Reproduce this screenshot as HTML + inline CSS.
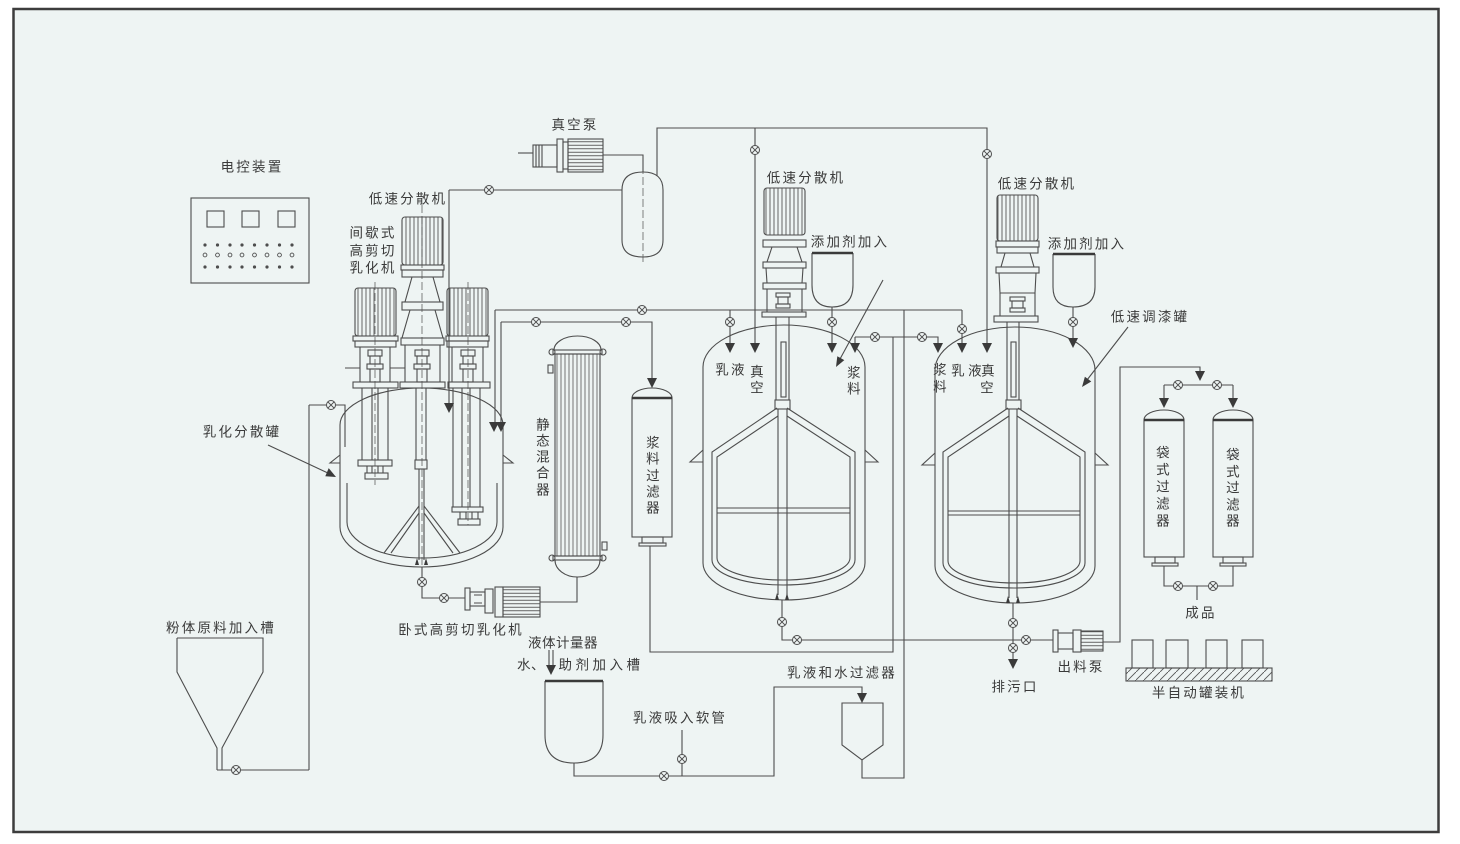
<!DOCTYPE html>
<html><head><meta charset="utf-8"><style>
html,body{margin:0;padding:0;background:#fff;}
svg{display:block;}
text{font-family:"Liberation Sans","Noto Sans CJK SC",sans-serif;font-size:13.5px;fill:#3a3a3a;letter-spacing:2.2px;dominant-baseline:central;text-anchor:middle;}
</style></head><body>
<svg width="1460" height="844" viewBox="0 0 1460 844" xmlns="http://www.w3.org/2000/svg">
<defs>
<pattern id="vr" width="4" height="10" patternUnits="userSpaceOnUse"><line x1="2" y1="0" x2="2" y2="10" stroke="#555" stroke-width="0.9"/></pattern>
<pattern id="hr" width="10" height="3.5" patternUnits="userSpaceOnUse"><line x1="0" y1="1.75" x2="10" y2="1.75" stroke="#555" stroke-width="0.9"/></pattern>
<pattern id="tb" width="4" height="10" patternUnits="userSpaceOnUse"><line x1="1" y1="0" x2="1" y2="10" stroke="#555" stroke-width="0.8"/></pattern>
<pattern id="hatch" width="8" height="8" patternUnits="userSpaceOnUse"><line x1="0" y1="8" x2="8" y2="0" stroke="#555" stroke-width="0.9"/></pattern>
<g id="v"><circle r="4.5" fill="#eef4f3" stroke="#4d4d4d" stroke-width="1"/><path d="M-3.2,-3.2L3.2,3.2M-3.2,3.2L3.2,-3.2" stroke="#4d4d4d" stroke-width="1"/></g>
<path id="a" d="M-5,-10L5,-10L0,0Z" fill="#3a3a3a"/>
<path id="au" d="M-2,7L0,0L2,7Z" fill="#3a3a3a"/>
</defs>

<rect x="13.5" y="9" width="1425" height="823" fill="#eef4f3" stroke="#3d3d3d" stroke-width="2.5"/>

<g stroke="#4d4d4d" stroke-width="1.1" fill="none">
<!-- control box -->
<rect x="191" y="198" width="118" height="85"/>
<rect x="207" y="211" width="17" height="16"/>
<rect x="242" y="211" width="17" height="16"/>
<rect x="278" y="211" width="17" height="16"/>
</g>
<g fill="#4d4d4d">
<circle cx="205" cy="245" r="1.6"/><circle cx="217.5" cy="245" r="1.6"/><circle cx="230" cy="245" r="1.6"/><circle cx="242" cy="245" r="1.6"/><circle cx="254.5" cy="245" r="1.6"/><circle cx="267" cy="245" r="1.6"/><circle cx="279.5" cy="245" r="1.6"/><circle cx="292" cy="245" r="1.6"/>
<circle cx="205" cy="267" r="1.6"/><circle cx="217.5" cy="267" r="1.6"/><circle cx="230" cy="267" r="1.6"/><circle cx="242" cy="267" r="1.6"/><circle cx="254.5" cy="267" r="1.6"/><circle cx="267" cy="267" r="1.6"/><circle cx="279.5" cy="267" r="1.6"/><circle cx="292" cy="267" r="1.6"/>
</g>
<g fill="none" stroke="#4d4d4d" stroke-width="0.9">
<circle cx="205" cy="255" r="1.9"/><circle cx="217.5" cy="255" r="1.9"/><circle cx="230" cy="255" r="1.9"/><circle cx="242" cy="255" r="1.9"/><circle cx="254.5" cy="255" r="1.9"/><circle cx="267" cy="255" r="1.9"/><circle cx="279.5" cy="255" r="1.9"/><circle cx="292" cy="255" r="1.9"/>
</g>

<g stroke="#4d4d4d" stroke-width="1.1" fill="none">
<!-- ===== LEFT TANK ===== -->
<path d="M340,527 V425 A81.5,37 0 0 1 503,425 V527 A81.5,40 0 0 1 340,527 Z"/>
<path d="M347,483 V522 A75,36 0 0 0 497,522 V483"/>
<path d="M340,455 L330,463 L340,463 M503,455 L513,463 L503,463"/>
<!-- motors -->
<rect x="355" y="288" width="41" height="48" rx="3" fill="url(#vr)"/>
<rect x="353" y="336" width="45" height="5"/>
<rect x="355" y="341" width="41" height="6"/>
<path d="M360,347 V382 M390,347 V382"/>
<rect x="368" y="350" width="14" height="6"/>
<rect x="370" y="356" width="10" height="8"/>
<rect x="367" y="364" width="16" height="5"/>
<rect x="370" y="369" width="10" height="13"/>
<rect x="353" y="382" width="45" height="6"/>
<path d="M345,368H360 M390,368H405"/>

<rect x="402" y="217" width="41" height="48" rx="3" fill="url(#vr)"/>
<rect x="401" y="265" width="43" height="5"/>
<rect x="402" y="270" width="41" height="7"/>
<path d="M412,277 L433,277 L440,302 L405,302 Z"/>
<rect x="402" y="302" width="41" height="8"/>
<path d="M410,310 L435,310 L443,338 L402,338 Z"/>
<rect x="401" y="338" width="43" height="7"/>
<path d="M405,345 V382 M440,345 V382"/>
<rect x="415" y="350" width="14" height="6"/>
<rect x="417" y="356" width="10" height="8"/>
<rect x="414" y="364" width="16" height="5"/>
<rect x="417" y="369" width="10" height="13"/>
<rect x="400" y="382" width="45" height="6"/>

<rect x="447" y="288" width="41" height="48" rx="3" fill="url(#vr)"/>
<rect x="446" y="336" width="43" height="5"/>
<rect x="447" y="341" width="41" height="6"/>
<path d="M452,347 V382 M483,347 V382"/>
<rect x="461" y="350" width="14" height="6"/>
<rect x="463" y="356" width="10" height="8"/>
<rect x="460" y="364" width="16" height="5"/>
<rect x="463" y="369" width="10" height="13"/>
<rect x="448" y="382" width="42" height="6"/>
<!-- agitators -->
<path d="M362,388V460 M388,388V460 M372,388V460 M378,388V460"/>
<rect x="358" y="460" width="34" height="6"/>
<path d="M367,466V473 M372,466V473 M378,466V473 M383,466V473"/>
<rect x="365" y="473" width="23" height="6"/>
<path d="M416,388V460 M426,388V460"/>
<rect x="415" y="460" width="12" height="9"/>
<path d="M419,469V560 M424,469V560"/>
<path d="M419,506 L384,553 M419,513 L391,553 M424,506 L460,553 M424,513 L453,553"/>
<path d="M453,388V507 M462,388V507 M470,388V507 M480,388V507"/>
<rect x="452" y="507" width="31" height="5"/>
<path d="M460,512V519 M466,512V519 M472,512V519 M478,512V519"/>
<rect x="458" y="519" width="22" height="6"/>
</g>
<use href="#au" x="417" y="558"/><use href="#au" x="426" y="558"/>
<g stroke="#4d4d4d" stroke-width="0.7" fill="none" stroke-dasharray="8,3">
<path d="M375,282V485 M422,205V565 M468,282V525 M643,155V263"/>
</g>

<g stroke="#4d4d4d" stroke-width="1.1" fill="none">
<!-- left pipes -->
<path d="M449,190 V404 M449,190 H622"/>
<path d="M495,310 V423 M501,322 V423"/>
<path d="M495,310 H962 M501,322 H652 V378"/>
<path d="M309,405 V770 M309,405 H345 V447"/>
<path d="M177,638 H263 V672 L222,748 V770 M177,638 V672 L217,748 V770 M217,770 H309"/>
<path d="M268,445 L330,474"/>
<!-- bottom of left tank + horizontal pump -->
<path d="M422,567 V598 H465"/>
<rect x="465" y="588" width="5" height="22"/>
<rect x="470" y="592" width="15" height="14"/>
<path d="M474,595 H482 M474,603 H482"/>
<rect x="485" y="589" width="8" height="24"/>
<rect x="495" y="587" width="8" height="30"/>
<rect x="503" y="587" width="37" height="30" fill="url(#hr)"/>
<path d="M540,602 H577 V577"/>

<!-- static mixer -->
<path d="M554,350 A23.5,14 0 0 1 601,350"/>
<rect x="553" y="350" width="49" height="4"/>
<circle cx="552" cy="352" r="3"/><circle cx="603" cy="352" r="3"/>
<rect x="555" y="354" width="45" height="202" fill="url(#tb)"/>
<rect x="553" y="556" width="49" height="4"/>
<circle cx="552" cy="558" r="3"/><circle cx="603" cy="558" r="3"/>
<path d="M555,560 A22.5,17 0 0 0 600,560"/>
<rect x="548" y="365" width="5" height="8"/>
<rect x="602" y="542" width="5" height="8"/>

<!-- slurry filter -->
<path d="M632,398 A20,10 0 0 1 672,398"/>
<rect x="632" y="398" width="40" height="139"/>
<rect x="642" y="537" width="21" height="6"/>
<rect x="639" y="543" width="27" height="3"/>
<path d="M650,546 V652 H893 V337"/>

<!-- vacuum pump + tank -->
<path d="M518,153 H533"/>
<rect x="533" y="145" width="24" height="22"/>
<path d="M536,145V167 M539,145V167 M542,145V167"/>
<rect x="557" y="139" width="6" height="33"/>
<rect x="563" y="142" width="5" height="27"/>
<rect x="568" y="139" width="35" height="33" fill="url(#hr)"/>
<path d="M603,155 H643 V172"/>
<path d="M622,190 Q622,172 643,172 Q663,172 663,190 V240 Q663,257 643,257 Q622,257 622,240 Z"/>
<path d="M657,176 V128 H987 V344"/>

<!-- ===== MIDDLE TANK ===== -->
<path d="M703,563 V367 A81,42 0 0 1 865,367 V563 A81,37 0 0 1 703,563 Z"/>
<path d="M777,408 L712,452 V560 A71.5,25 0 0 0 855,560 V452 L787,408"/>
<path d="M778,416 L717,457 V558 A66.5,22 0 0 0 850,558 V457 L787,416"/>
<path d="M717,508 H850 M717,513 H850"/>
<path d="M703,450 L690,462 L703,462 M865,450 L878,462 L865,462"/>
<rect x="764" y="188" width="41" height="47" rx="3" fill="url(#vr)"/>
<rect x="763" y="240" width="43" height="7"/>
<path d="M772,247 L797,247 L802,262 L767,262 Z"/>
<rect x="763" y="262" width="43" height="6"/>
<path d="M766,268 L803,268 L802,283 L767,283 Z"/>
<rect x="763" y="283" width="43" height="6"/>
<path d="M767,289 V312 M802,289 V312"/>
<rect x="776" y="293" width="14" height="4"/>
<rect x="778" y="297" width="10" height="7"/>
<rect x="776" y="304" width="14" height="4"/>
<rect x="762" y="312" width="44" height="5"/>
<path d="M776,317 V400 M789,317 V400"/>
<rect x="781" y="342" width="5" height="55"/>
<rect x="775" y="400" width="15" height="9"/>
<path d="M778,409 V595 M787,409 V595"/>
<path d="M812,253 V285 Q812,307 832,307 Q853,307 853,285 V253"/>
<path d="M832,307 V344 M730,310 V344 M755,128 V344 M855,337 V344 M855,337 H938 V344"/>
<path d="M883,280 L840,359"/>
<path d="M782,600 V640 H1053"/>

<!-- ===== RIGHT TANK ===== -->
<path d="M935,566 V370 A80,43 0 0 1 1095,370 V566 A80,37 0 0 1 935,566 Z"/>
<path d="M1008,408 L943,452 V563 A71,25 0 0 0 1085,563 V452 L1018,408"/>
<path d="M1009,416 L948,457 V561 A66,22 0 0 0 1080,561 V457 L1017,416"/>
<path d="M948,511 H1080 M948,515 H1080"/>
<path d="M935,453 L922,465 L935,465 M1095,453 L1108,465 L1095,465"/>
<rect x="997" y="195" width="41" height="46" rx="3" fill="url(#vr)"/>
<rect x="996" y="241" width="43" height="6"/>
<rect x="997" y="247" width="41" height="6"/>
<path d="M1005,253 L1030,253 L1034,267 L1001,267 Z"/>
<rect x="996" y="267" width="43" height="6"/>
<path d="M999,273 L1036,273 L1035,293 L1000,293 Z"/>
<path d="M1000,293 V316 M1035,293 V316"/>
<rect x="1010" y="297" width="15" height="4"/>
<rect x="1012" y="301" width="11" height="7"/>
<rect x="1010" y="308" width="15" height="4"/>
<rect x="994" y="316" width="44" height="6"/>
<path d="M1007,322 V400 M1019,322 V400"/>
<rect x="1011" y="342" width="5" height="55"/>
<rect x="1006" y="400" width="15" height="9"/>
<path d="M1009,409 V598 M1017,409 V598"/>
<path d="M1053,254 V287 Q1053,307 1073,307 Q1095,307 1095,287 V254"/>
<path d="M1073,307 V339 M962,310 V344"/>
<path d="M1128,327 L1087,380"/>
<path d="M1013,603 V659"/>
<path d="M893,337 V337 M904,310 V778 H862 V760"/>

<!-- discharge pump -->
<rect x="1053" y="630" width="5" height="22"/>
<rect x="1058" y="633" width="15" height="16"/>
<rect x="1073" y="630" width="8" height="22"/>
<rect x="1081" y="631" width="22" height="20" fill="url(#hr)"/>
<path d="M1103,642 H1120 V367 H1200 V372"/>
<path d="M1164,385 H1233 M1164,385 V399 M1233,385 V399"/>

<!-- bag filters -->
<path d="M1144,420 A20,10 0 0 1 1184,420"/>
<rect x="1144" y="420" width="40" height="137"/>
<rect x="1155" y="557" width="20" height="6"/>
<rect x="1152" y="563" width="26" height="3"/>
<path d="M1213,420 A20,10 0 0 1 1253,420"/>
<rect x="1213" y="420" width="40" height="137"/>
<rect x="1223" y="557" width="20" height="6"/>
<rect x="1220" y="563" width="26" height="3"/>
<path d="M1164,566 V586 H1233 V566 M1197,586 V600"/>

<!-- canning machine -->
<rect x="1132" y="640" width="21" height="28"/>
<rect x="1166" y="640" width="22" height="28"/>
<rect x="1206" y="640" width="21" height="28"/>
<rect x="1242" y="640" width="21" height="28"/>
<rect x="1126" y="668" width="146" height="13" fill="url(#hatch)"/>

<!-- water tank / lower piping -->
<path d="M549,650 V666 M553,650 V666"/>
<path d="M545,681 V735 Q545,763 574,763 Q603,763 603,735 V681"/>
<path d="M574,763 V776 H774 V687 H862 V693"/>
<path d="M682,730 V776"/>
<path d="M842,703 H883 V745 L862,760 L842,745 Z"/>
</g>
<!-- thick hopper tops -->
<g stroke="#3a3a3a" stroke-width="2.4">
<path d="M812,253 H853 M1053,254 H1095 M545,681 H603 M632,398 H672 M1144,420 H1184 M1213,420 H1253"/>
</g>

<!-- arrowheads -->
<use href="#a" x="449" y="413"/>
<use href="#a" x="494" y="432"/>
<use href="#a" x="501" y="432"/>
<use href="#a" x="652" y="388"/>
<use href="#a" x="730" y="353"/>
<use href="#a" x="755" y="353"/>
<use href="#a" x="832" y="353"/>
<use href="#a" x="855" y="353"/>
<use href="#a" x="938" y="353"/>
<use href="#a" x="962" y="353"/>
<use href="#a" x="987" y="353"/>
<use href="#a" x="1073" y="348"/>
<use href="#a" x="1200" y="381"/>
<use href="#a" x="1164" y="408"/>
<use href="#a" x="1233" y="408"/>
<use href="#a" x="1013" y="669"/>
<use href="#a" x="551" y="675"/>
<use href="#a" x="862" y="703"/>
<use href="#au" x="777" y="593"/><use href="#au" x="787" y="593"/>
<use href="#au" x="1008" y="596"/><use href="#au" x="1018" y="596"/>
<path d="M836,367 L844.3,360.1 L837.3,356.3 Z" fill="#3a3a3a"/>
<path d="M1082,387 L1091.3,381.5 L1084.9,376.7 Z" fill="#3a3a3a"/>
<path d="M336,477 L325.3,476.3 L328.7,468.1 Z" fill="#3a3a3a"/>

<!-- valves -->
<use href="#v" x="489" y="190"/>
<use href="#v" x="331" y="405"/>
<use href="#v" x="236" y="770"/>
<use href="#v" x="642" y="310"/>
<use href="#v" x="536" y="322"/>
<use href="#v" x="626" y="322"/>
<use href="#v" x="422" y="582"/>
<use href="#v" x="444" y="598"/>
<use href="#v" x="755" y="150"/>
<use href="#v" x="987" y="154"/>
<use href="#v" x="730" y="322"/>
<use href="#v" x="832" y="322"/>
<use href="#v" x="875" y="337"/>
<use href="#v" x="922" y="337"/>
<use href="#v" x="962" y="329"/>
<use href="#v" x="1073" y="322"/>
<use href="#v" x="782" y="622"/>
<use href="#v" x="797" y="640"/>
<use href="#v" x="1013" y="623"/>
<use href="#v" x="1013" y="648"/>
<use href="#v" x="1026" y="640"/>
<use href="#v" x="1178" y="385"/>
<use href="#v" x="1217" y="385"/>
<use href="#v" x="1178" y="586"/>
<use href="#v" x="1213" y="586"/>
<use href="#v" x="664" y="776"/>
<use href="#v" x="682" y="759"/>

<!-- labels -->
<text x="252" y="167">电控装置</text>
<text x="575" y="125">真空泵</text>
<text x="408" y="199">低速分散机</text>
<text x="373" y="233">间歇式</text>
<text x="373" y="251">高剪切</text>
<text x="373" y="268">乳化机</text>
<text x="242" y="432">乳化分散罐</text>
<text x="806" y="178">低速分散机</text>
<text x="850" y="242">添加剂加入</text>
<text x="731" y="370">乳液</text>
<text x="758" y="372">真</text>
<text x="758" y="388">空</text>
<text x="855" y="373">浆</text>
<text x="855" y="389">料</text>
<text x="1037" y="184">低速分散机</text>
<text x="1087" y="244">添加剂加入</text>
<text x="1150" y="317">低速调漆罐</text>
<text x="941" y="370">浆</text>
<text x="941" y="387">料</text>
<text x="959" y="371">乳</text>
<text x="976" y="371">液</text>
<text x="989" y="371">真</text>
<text x="988" y="388">空</text>
<text x="544" y="425">静</text>
<text x="544" y="441">态</text>
<text x="544" y="457">混</text>
<text x="544" y="473">合</text>
<text x="544" y="490">器</text>
<text x="654" y="443">浆</text>
<text x="654" y="459">料</text>
<text x="654" y="476">过</text>
<text x="654" y="492">滤</text>
<text x="654" y="508">器</text>
<text x="1164" y="453">袋</text>
<text x="1164" y="470">式</text>
<text x="1164" y="487">过</text>
<text x="1164" y="504">滤</text>
<text x="1164" y="521">器</text>
<text x="1234" y="455">袋</text>
<text x="1234" y="472">式</text>
<text x="1234" y="488">过</text>
<text x="1234" y="505">滤</text>
<text x="1234" y="521">器</text>
<text x="1201" y="613">成品</text>
<text x="1081" y="667">出料泵</text>
<text x="1015" y="687">排污口</text>
<text x="1199" y="693">半自动罐装机</text>
<text x="221" y="628">粉体原料加入槽</text>
<text x="461" y="630">卧式高剪切乳化机</text>
<text x="563" y="643" style="letter-spacing:0.5px">液体计量器</text>
<text x="531" y="665" style="letter-spacing:0.5px">水、</text>
<text x="601" y="665" style="letter-spacing:3.5px">助剂加入槽</text>
<text x="680" y="718">乳液吸入软管</text>
<text x="842" y="673">乳液和水过滤器</text>
</svg>
</body></html>
